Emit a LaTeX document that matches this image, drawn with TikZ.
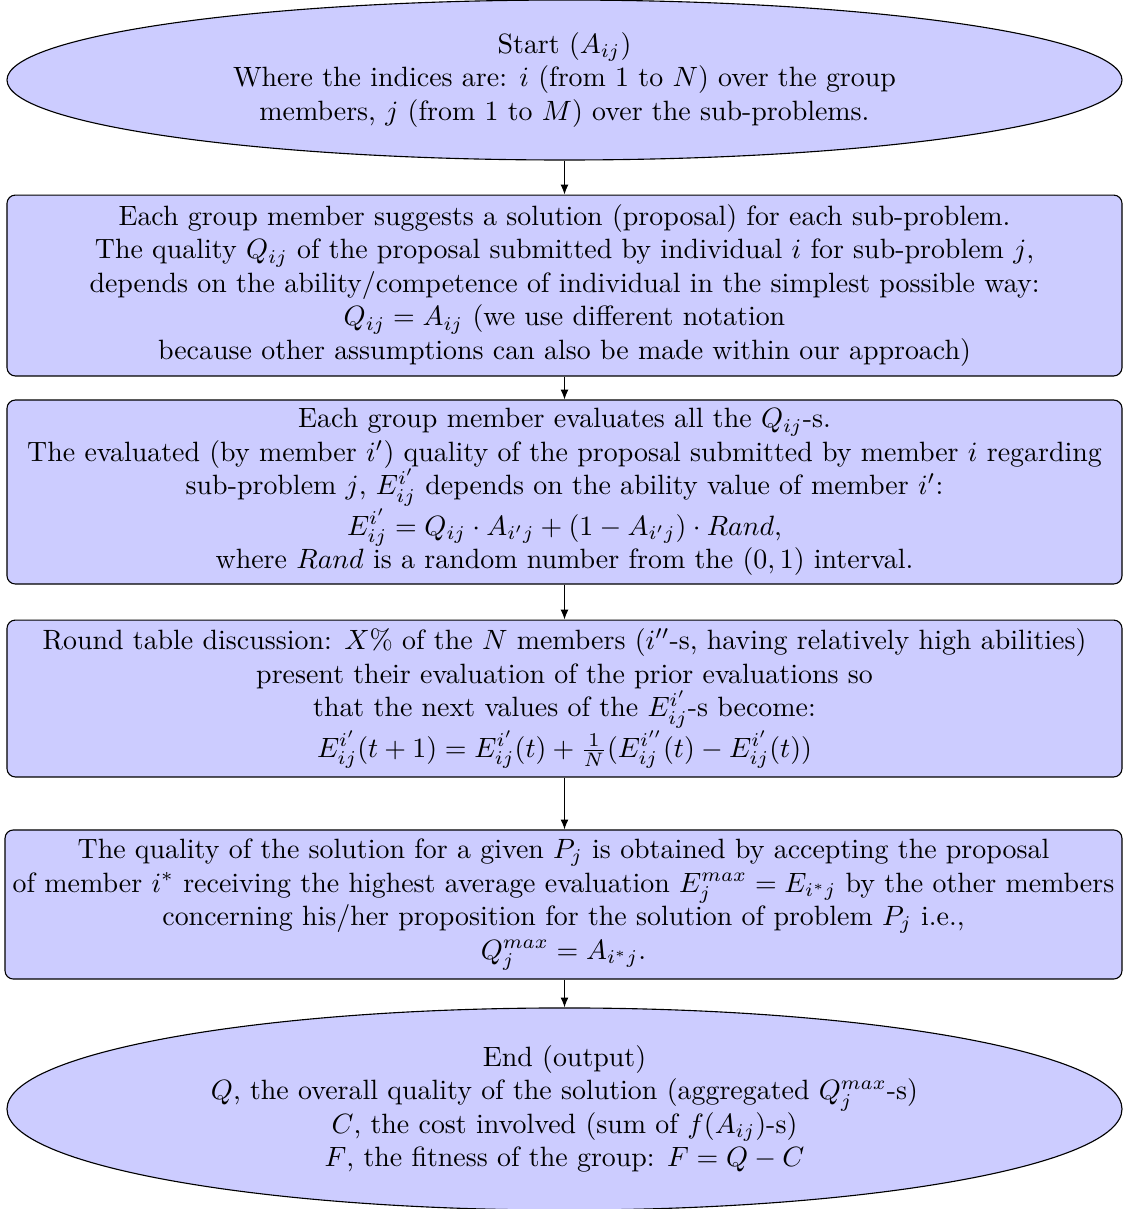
\documentclass[tikz,border=0pt]{standalone}
\usetikzlibrary{shapes.geometric,arrows.meta}
\begin{document}
\begin{tikzpicture}[x=0.3582pt,y=-0.3582pt,
  box/.style={draw=black, fill=blue!20, rounded corners=3pt, align=center, inner sep=1pt, line width=0.4pt},
  oval/.style={draw=black, fill=blue!20, ellipse, align=center, inner sep=0pt, line width=0.4pt},
  arr/.style={-{Latex[length=3.5pt,width=2.8pt]}, line width=0.4pt}]
\useasboundingbox (0,0) rectangle (1123,1209);

\node[oval, minimum width=399.4pt, minimum height=57.3pt] (start) at (564.5,80)
  {Start ($A_{ij}$)\\
   Where the indices are: $i$ (from 1 to $N$) over the group\\
   members, $j$ (from 1 to $M$) over the sub-problems.};

\node[box, minimum width=399.4pt, minimum height=64.8pt] (b1) at (564.5,285.5)
  {Each group member suggests a solution (proposal) for each sub-problem.\\
   The quality $Q_{ij}$ of the proposal submitted by individual $i$ for sub-problem $j$,\\
   depends on the ability/competence of individual in the simplest possible way:\\
   $Q_{ij}=A_{ij}$ (we use different notation\\
   because other assumptions can also be made within our approach)};

\node[box, minimum width=399.4pt, minimum height=65.9pt] (b2) at (564.5,492)
  {Each group member evaluates all the $Q_{ij}$-s.\\
   The evaluated (by member $i'$) quality of the proposal submitted by member $i$ regarding\\
   sub-problem $j$, $E^{i'}_{ij}$ depends on the ability value of member $i'$:\\
   $E^{i'}_{ij} = Q_{ij}\cdot A_{i'j} + (1-A_{i'j})\cdot Rand$,\\
   where $Rand$ is a random number from the $(0,1)$ interval.};

\node[box, minimum width=399.4pt, minimum height=56.2pt] (b3) at (564.5,698.5)
  {Round table discussion: $X\%$ of the $N$ members ($i''$-s, having relatively high abilities)\\
   present their evaluation of the prior evaluations so\\
   that the next values of the $E^{i'}_{ij}$-s become:\\
   $E^{i'}_{ij}(t+1) = E^{i'}_{ij}(t) + \frac{1}{N}(E^{i''}_{ij}(t) - E^{i'}_{ij}(t))$};

\node[box, minimum width=400.1pt, minimum height=53.4pt] (b4) at (563.5,904.5)
  {The quality of the solution for a given $P_j$ is obtained by accepting the proposal\\
   of member $i^*$ receiving the highest average evaluation $E^{max}_j = E_{i^*j}$ by the other members\\
   concerning his/her proposition for the solution of problem $P_j$ i.e.,\\
   $Q^{max}_j = A_{i^*j}$.};

\node[oval, minimum width=399.4pt, minimum height=72.4pt] (end) at (564.5,1109)
  {End (output)\\
   $Q$, the overall quality of the solution (aggregated $Q^{max}_j$-s)\\
   $C$, the cost involved (sum of $f(A_{ij})$-s)\\
   $F$, the fitness of the group: $F=Q-C$};

\draw[arr] (start.south) -- (b1.north);
\draw[arr] (b1.south) -- (b2.north);
\draw[arr] (b2.south) -- (b3.north);
\draw[arr] (b3.south) -- (b4.north -| b3.south);
\draw[arr] (b4.south -| b3.south) -- (end.north);
\end{tikzpicture}
\end{document}
